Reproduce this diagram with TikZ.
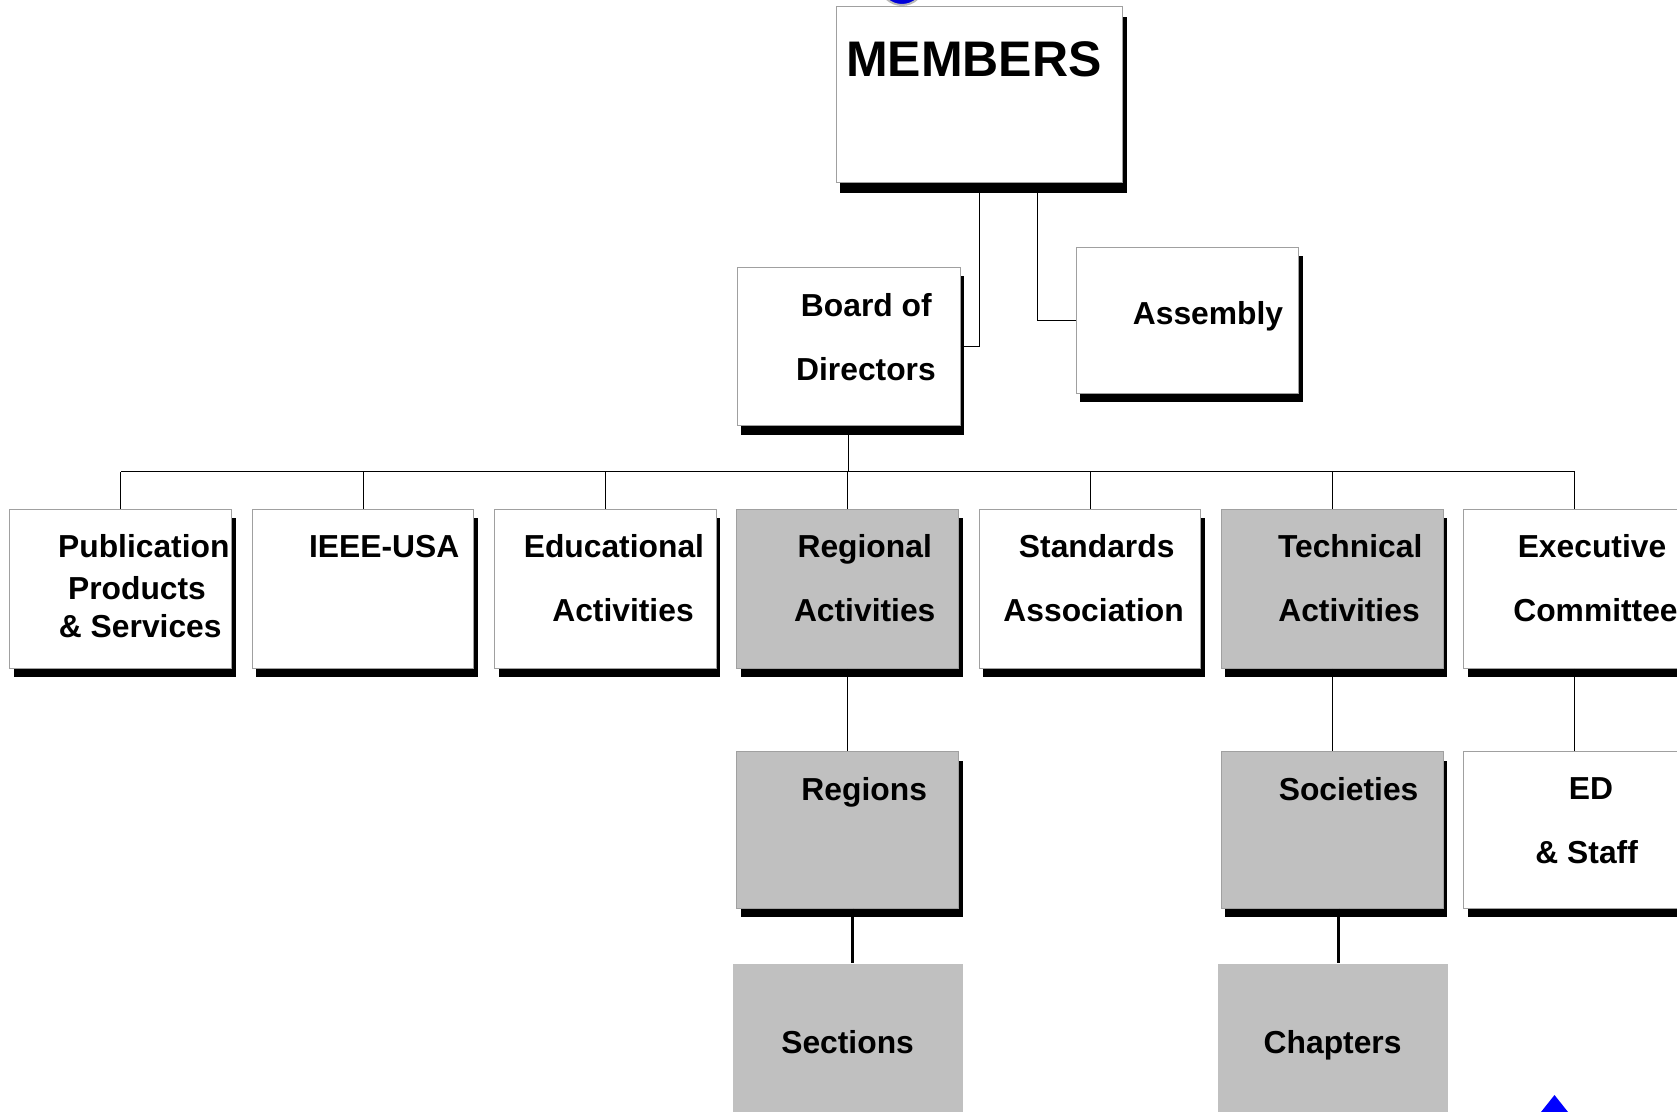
\documentclass[tikz,border=0pt]{standalone}
\usepackage{fontspec}
\setmainfont{Liberation Sans}
\usetikzlibrary{shadows,calc}
\definecolor{boxgray}{HTML}{C0C0C0}
\definecolor{edgegray}{HTML}{A0A0A0}
\begin{document}
\begin{tikzpicture}[x=0.5pt,y=-0.5pt,
  orgbox/.style={draw=edgegray, line width=0.5pt, fill=white, inner sep=0pt,
    minimum width=110.85pt, minimum height=79.5pt},
  shad/.style={drop shadow={shadow xshift=2pt, shadow yshift=-4.5pt, fill=black, opacity=1}},
  bigshad/.style={drop shadow={shadow xshift=2pt, shadow yshift=-5pt, fill=black, opacity=1}},
  graybox/.style={orgbox, fill=boxgray},
  lowbox/.style={fill=boxgray, draw=none, inner sep=0pt, minimum width=115.2pt, minimum height=100pt},
  lbl/.style={anchor=base, font=\fontsize{15.9}{19}\selectfont\bfseries, inner sep=0pt},
  link/.style={draw=black, line width=0.5pt},
  thicklink/.style={draw=black, line width=1.2pt}]
\useasboundingbox (0,0) rectangle (1677,1112);
\clip (0,0) rectangle (1677,1112);
\fill[white] (0,0) rectangle (1677,1112);

% decorative clipped marks
\path[fill=blue!85!black, draw=gray!55, line width=1pt] (902,-14) ellipse [x radius=10.5pt, y radius=9.5pt];
\fill[blue] (1541,1112) -- (1554.5,1095) -- (1568,1112) -- cycle;

% boxes
\node[orgbox, bigshad, minimum width=143.35pt, minimum height=87.85pt] (members) at (979.35,94.85) {};
\node[orgbox, shad, minimum width=111.5pt, minimum height=79.35pt] (board) at (848.5,346.65) {};
\node[orgbox, shad, minimum width=111.3pt, minimum height=73pt] (assembly) at (1187.3,320.3) {};

\node[orgbox, shad] (pub) at (120.8,588.8) {};
\node[orgbox, shad] (usa) at (363.1,588.8) {};
\node[orgbox, shad] (edu) at (605.4,588.8) {};
\node[graybox, shad] (reg) at (847.7,588.8) {};
\node[orgbox, shad] (std) at (1090,588.8) {};
\node[graybox, shad] (tec) at (1332.3,588.8) {};
\node[orgbox, shad] (exe) at (1574.6,588.8) {};

\node[graybox, shad, minimum height=78.15pt] (regions) at (847.7,829.85) {};
\node[graybox, shad, minimum height=78.15pt] (societies) at (1332.3,829.85) {};
\node[orgbox, shad, minimum height=78.15pt] (ed) at (1574.6,829.85) {};

\node[lowbox] (sections) at (847.8,1063.6) {};
\node[lowbox] (chapters) at (1333,1063.6) {};

% connectors
\coordinate (bus) at (848.5,471.6);
\draw[link] (board.east) -| (members.south);
\draw[link] (assembly.west) -| ($(members.south)+(57.65,0)$);
\draw[link] (board.south) -- (board.south |- bus);
\draw[link] (pub.north |- bus) -- (exe.north |- bus);
\foreach \b in {pub,usa,edu,reg,std,tec,exe}{
  \draw[link] (\b.north) -- (\b.north |- bus);
}
\draw[link] (reg.south) -- (regions.north);
\draw[link] (tec.south) -- (societies.north);
\draw[link] (exe.south) -- (ed.north);
\draw[thicklink] ([xshift=2.4pt]regions.south) -- ([xshift=2.4pt]regions.south |- sections.north);
\draw[thicklink] ([xshift=3pt]societies.south) -- ([xshift=3pt]societies.south |- chapters.north);

% labels
\node[lbl, font=\fontsize{25}{30}\selectfont\bfseries] (tMembers) at (973.8,76.7) {MEMBERS};
\node[lbl] (tBoard1) at (866.3,317) {Board of};
\node[lbl] (tBoard2) at (866,381) {Directors};
\node[lbl] (tAssembly) at (1208,325) {Assembly};

\node[lbl] (tPub1) at (143.8,557.3) {Publication};
\node[lbl] (tPub2) at (137,599.3) {Products};
\node[lbl] (tPub3) at (140.3,637.3) {\& Services};
\node[lbl] (tUsa) at (384.2,557.3) {IEEE-USA};
\node[lbl] (tEdu1) at (613.9,557.3) {Educational};
\node[lbl] (tEdu2) at (623,622) {Activities};
\node[lbl] (tReg1) at (864.7,557.3) {Regional};
\node[lbl] (tReg2) at (864.7,622) {Activities};
\node[lbl] (tStd1) at (1096.7,557.3) {Standards};
\node[lbl] (tStd2) at (1093.6,622) {Association};
\node[lbl] (tTec1) at (1350.2,557.3) {Technical};
\node[lbl] (tTec2) at (1349,622) {Activities};
\node[lbl] (tExe1) at (1592,557.3) {Executive};
\node[lbl] (tExe2) at (1595.5,622) {Committee};

\node[lbl] (tRegions) at (864.2,800.5) {Regions};
\node[lbl] (tSocieties) at (1348.6,800.5) {Societies};
\node[lbl] (tEd1) at (1591,799.5) {ED};
\node[lbl] (tEd2) at (1586.7,863.3) {\& Staff};

\node[lbl] (tSections) at (847.6,1053.3) {Sections};
\node[lbl] (tChapters) at (1332.6,1053.3) {Chapters};
\end{tikzpicture}
\end{document}
